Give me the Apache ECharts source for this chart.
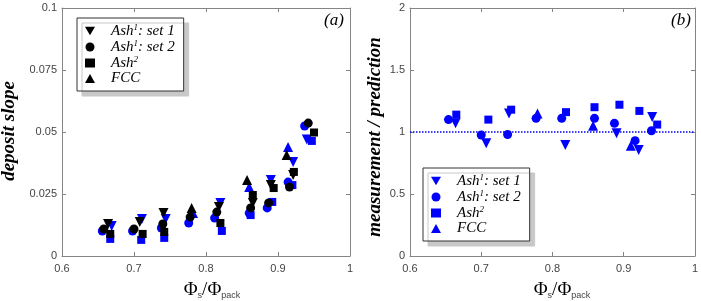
<!DOCTYPE html>
<html>
<head>
<meta charset="utf-8">
<script src="https://cdn.jsdelivr.net/npm/echarts@6/dist/echarts.min.js"></script>
<style>
  html, body { margin: 0; padding: 0; background: #fff; }
  #chart { width: 701px; height: 301px; }
</style>
</head>
<body>
<div id="chart"></div>
<script>
// panel (a): deposit slope, blue and black marks per set
const set1Black = [[0.664, 0.0129], [0.708, 0.0137], [0.741, 0.0173], [0.818, 0.0198], [0.865, 0.0214], [0.89, 0.0286], [0.921, 0.0327]]
const set1Blue = [[0.669, 0.0121], [0.711, 0.0149], [0.744, 0.0149], [0.82, 0.0214], [0.89, 0.0306], [0.921, 0.0379], [0.94, 0.047]]
const set2Black = [[0.658, 0.0109], [0.7, 0.0109], [0.74, 0.0129], [0.778, 0.0157], [0.815, 0.0177], [0.862, 0.0194], [0.887, 0.0214], [0.916, 0.0278], [0.942, 0.0536]]
const set2Blue = [[0.656, 0.0101], [0.698, 0.0101], [0.738, 0.0113], [0.776, 0.0133], [0.812, 0.0153], [0.86, 0.0173], [0.885, 0.0194], [0.914, 0.0298], [0.937, 0.0524]]
const ash2Black = [[0.667, 0.0089], [0.712, 0.0089], [0.742, 0.0097], [0.82, 0.0133], [0.865, 0.0246], [0.894, 0.0274], [0.922, 0.0339], [0.95, 0.0498]]
const ash2Blue = [[0.667, 0.0069], [0.71, 0.0065], [0.742, 0.0073], [0.822, 0.0101], [0.862, 0.0165], [0.892, 0.0218], [0.92, 0.0286], [0.947, 0.0464]]
const fccBlack = [[0.78, 0.0194], [0.857, 0.0306], [0.912, 0.0407]]
const fccBlue = [[0.782, 0.0173], [0.86, 0.0278], [0.914, 0.044]]

// panel (b): measurement / prediction
const set1Ratio = [[0.664, 1.07], [0.707, 0.91], [0.739, 1.15], [0.818, 0.895], [0.89, 0.99], [0.921, 0.855], [0.94, 1.12]]
const set2Ratio = [[0.654, 1.10], [0.7, 0.976], [0.737, 0.98], [0.777, 1.11], [0.813, 1.11], [0.859, 1.11], [0.887, 1.07], [0.916, 0.93], [0.939, 1.01]]
const ash2Ratio = [[0.665, 1.14], [0.71, 1.10], [0.742, 1.18], [0.819, 1.16], [0.859, 1.20], [0.894, 1.22], [0.922, 1.17], [0.947, 1.06]]
const fccRatio = [[0.779, 1.15], [0.857, 1.05], [0.91, 0.89]]
const unityLine = [[0.6, 1], [1, 1]]

const xTicks = { min: 0.6, max: 1, interval: 0.1 }
const yTicksA = { min: 0, max: 0.1, interval: 0.025 }
const yTicksB = { min: 0, max: 2, interval: 0.5 }

const BLUE = '#0000ff'
const BLACK = '#000000'
const AXIS = '#858585'
const serif = 'Liberation Serif'
const sans = 'Liberation Sans'
const triDown = 'path://M0,0L2,0L1,1.732Z'

const legendText = {
  'Ash1: set 1': '{sp|}{t|Ash}{u|1}{t|: set 1}',
  'Ash1: set 2': '{sp|}{t|Ash}{u|1}{t|: set 2}',
  'Ash2': '{sp|}{t|Ash}{u|2}',
  'FCC': '{sp|}{t|FCC}',
  'r1': '{sp|}{t|Ash}{u|1}{t|: set 1}',
  'r2': '{sp|}{t|Ash}{u|1}{t|: set 2}',
  'r3': '{sp|}{t|Ash}{u|2}',
  'r4': '{sp|}{t|FCC}'
}

function axis(kind, grid, pos, ticks, labels) {
  return {
    type: 'value',
    gridIndex: grid,
    position: pos,
    min: ticks.min,
    max: ticks.max,
    interval: ticks.interval,
    axisLine: { show: true, onZero: false, lineStyle: { color: AXIS, width: 1 } },
    axisTick: { show: true, inside: true, length: 4, lineStyle: { color: AXIS } },
    axisLabel: { show: labels, color: '#444', fontSize: 11, fontFamily: sans, margin: kind === 'x' ? 7 : 5 },
    splitLine: { show: false }
  }
}

function marks(name, data, symbol, rotate, color, idx, size) {
  return {
    name: name,
    type: 'scatter',
    data: data,
    symbol: symbol,
    symbolRotate: rotate,
    symbolSize: size,
    itemStyle: { color: color, opacity: 1 },
    xAxisIndex: idx,
    yAxisIndex: idx,
    silent: true
  }
}

function legend(left, top, names, color) {
  const icons = [triDown, 'circle', 'rect', 'triangle']
  return {
    data: names.map(function (n, i) {
      return { name: n, icon: icons[i], itemStyle: { color: color } }
    }),
    orient: 'vertical',
    left: left,
    top: top,
    itemWidth: 10,
    itemHeight: 9,
    itemGap: 0.5,
    padding: [5, 9, 5, 8],
    selectedMode: false,
    backgroundColor: '#fff',
    borderColor: '#333',
    borderWidth: 1,
    borderRadius: 0,
    shadowColor: '#c8c8c8',
    shadowBlur: 0,
    shadowOffsetX: 5,
    shadowOffsetY: 5,
    formatter: function (n) { return legendText[n] },
    textStyle: {
      color: '#000',
      rich: {
        sp: { width: 11 },
        t: { fontFamily: serif, fontStyle: 'italic', fontSize: 15, lineHeight: 16, color: '#000' },
        u: { fontFamily: serif, fontStyle: 'italic', fontSize: 9, lineHeight: 10, verticalAlign: 'top', color: '#000' }
      }
    }
  }
}

function label(x, y, text, rot, extra) {
  return {
    type: 'text',
    x: x,
    y: y,
    rotation: rot,
    silent: true,
    style: Object.assign({
      text: text,
      fill: '#000',
      font: 'italic 17px "' + serif + '"',
      align: 'center',
      verticalAlign: 'middle',
      textAlign: 'center',
      textVerticalAlign: 'middle'
    }, extra || {})
  }
}

function phiTitle(x, y) {
  return {
    type: 'text',
    x: x,
    y: y,
    silent: true,
    style: {
      text: '{p|Φ}{s|s}{p|/Φ}{s|pack}',
      align: 'center',
      verticalAlign: 'middle',
      rich: {
        p: { fontFamily: serif, fontSize: 19, lineHeight: 20, fill: '#000' },
        s: { fontFamily: sans, fontSize: 9, lineHeight: 12, verticalAlign: 'bottom', fill: '#444' }
      }
    }
  }
}

const chart = echarts.init(document.getElementById('chart'), null, { renderer: 'canvas' })
chart.setOption({
  animation: false,
  backgroundColor: '#fff',
  grid: [
    { left: 62, top: 8, width: 288, height: 248 },
    { left: 410, top: 8, width: 287, height: 248 }
  ],
  xAxis: [
    axis('x', 0, 'bottom', xTicks, true),
    axis('x', 1, 'bottom', xTicks, true),
    axis('x', 0, 'top', xTicks, false),
    axis('x', 1, 'top', xTicks, false)
  ],
  yAxis: [
    axis('y', 0, 'left', yTicksA, true),
    axis('y', 1, 'left', yTicksB, true),
    axis('y', 0, 'right', yTicksA, false),
    axis('y', 1, 'right', yTicksB, false)
  ],
  legend: [
    legend(77, 18, ['Ash1: set 1', 'Ash1: set 2', 'Ash2', 'FCC'], BLACK),
    legend(423, 168, ['r1', 'r2', 'r3', 'r4'], BLUE)
  ],
  series: [
    marks('b1', set1Blue, 'triangle', 180, BLUE, 0, 10),
    marks('b2', set2Blue, 'circle', 0, BLUE, 0, 9),
    marks('b3', ash2Blue, 'rect', 0, BLUE, 0, 8),
    marks('b4', fccBlue, 'triangle', 0, BLUE, 0, 10),
    marks('Ash1: set 1', set1Black, 'triangle', 180, BLACK, 0, 10),
    marks('Ash1: set 2', set2Black, 'circle', 0, BLACK, 0, 9),
    marks('Ash2', ash2Black, 'rect', 0, BLACK, 0, 8),
    marks('FCC', fccBlack, 'triangle', 0, BLACK, 0, 10),
    {
      name: 'unity',
      type: 'line',
      data: unityLine,
      xAxisIndex: 1,
      yAxisIndex: 1,
      symbol: 'none',
      silent: true,
      lineStyle: { color: BLUE, width: 1.5, type: 'dotted' }
    },
    marks('r1', set1Ratio, 'triangle', 180, BLUE, 1, 10),
    marks('r2', set2Ratio, 'circle', 0, BLUE, 1, 9),
    marks('r3', ash2Ratio, 'rect', 0, BLUE, 1, 8),
    marks('r4', fccRatio, 'triangle', 0, BLUE, 1, 10)
  ],
  graphic: [
    label(334, 21, '(a)', 0),
    label(681, 21, '(b)', 0),
    label(9, 131, 'deposit slope', Math.PI / 2, { font: 'italic bold 19px "' + serif + '"' }),
    label(375, 137, 'measurement / prediction', Math.PI / 2, { font: 'italic bold 19px "' + serif + '"' }),
    phiTitle(212, 290),
    phiTitle(562, 290)
  ]
})
</script>
</body>
</html>
